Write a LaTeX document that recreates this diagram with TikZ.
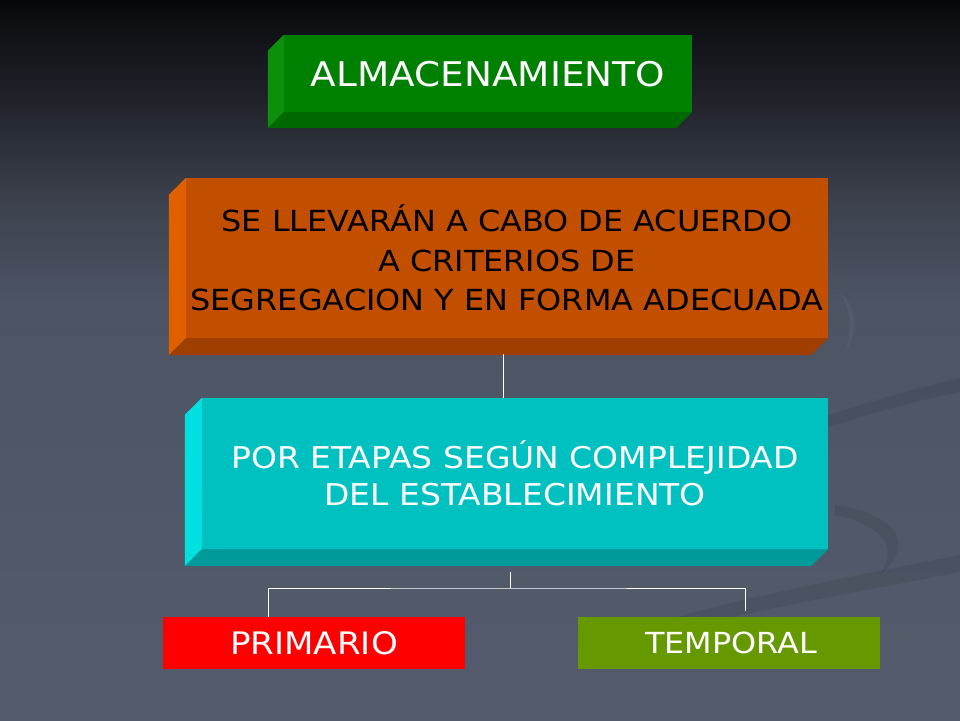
\documentclass[tikz,border=0pt]{standalone}
\usepackage{fontspec}
\setmainfont{DejaVu Sans}[FakeStretch=1.1]
\usetikzlibrary{calc}
\definecolor{bgtop}{HTML}{06070A}
\definecolor{bgb}{HTML}{0E0F13}
\definecolor{bgc}{HTML}{20232A}
\definecolor{bgd}{HTML}{3C414D}
\definecolor{bge}{HTML}{4D5464}
\definecolor{bgbot}{HTML}{545B6C}
\pgfdeclareverticalshading{bgshade}{100bp}{color(0bp)=(bgbot); color(25bp)=(bgbot); color(54bp)=(bge); color(61bp)=(bgd); color(68bp)=(bgc); color(73.5bp)=(bgb); color(75bp)=(bgtop); color(100bp)=(bgtop)}
\definecolor{grF}{HTML}{008000}
\definecolor{grL}{HTML}{0C900C}
\definecolor{grB}{HTML}{006800}
\definecolor{orF}{HTML}{C24E00}
\definecolor{orL}{HTML}{E06000}
\definecolor{orB}{HTML}{9E3F00}
\definecolor{cyF}{HTML}{00C0C0}
\definecolor{cyL}{HTML}{00E0E0}
\definecolor{cyB}{HTML}{009A9A}
\definecolor{redF}{HTML}{FF0000}
\definecolor{olF}{HTML}{669900}
\newcommand{\bevelfaces}[4]{%
  \fill[#3] ([shift={(-#4,-#4)}]#1.north west) -- (#1.north west) -- (#1.south west) -- ([shift={(-#4,-#4)}]#1.south west) -- cycle;
  \fill[#2] (#1.south west) -- (#1.south east) -- ([shift={(-#4,-#4)}]#1.south east) -- ([shift={(-#4,-#4)}]#1.south west) -- cycle;
}
\begin{document}
\begin{tikzpicture}[x=1pt,y=-1pt,
  facebox/.style={inner sep=0pt, align=center, text depth=0pt},
  flattext/.style={font=\fontsize{31}{37}\selectfont},
  conn/.style={draw=white, line width=0.9pt},
  swoosh/.style={fill=black, opacity=0.08}]
\useasboundingbox (0,0) rectangle (960,720);
\shade[shading=bgshade] (0,0) rectangle (960,720);
% subtle background swooshes
\fill[swoosh] (820,418) .. controls (880,398) and (920,388) .. (960,378) -- (960,392) .. controls (920,400) and (880,410) .. (820,430) -- cycle;
\fill[swoosh] (835,505) .. controls (900,515) and (915,545) .. (880,575) .. controls (900,545) and (880,525) .. (835,515) -- cycle;
\fill[swoosh] (600,640) .. controls (720,600) and (860,575) .. (960,555) -- (960,572) .. controls (860,592) and (720,615) .. (600,650) -- cycle;
\fill[white, opacity=0.04] (838,290) .. controls (858,305) and (858,335) .. (845,352) .. controls (852,335) and (852,305) .. (838,290) -- cycle;
% boxes
\node[facebox, fill=grF, minimum width=408pt, minimum height=77pt, text=white,
      font=\fontsize{34}{40}\selectfont] (alm) at (488,73.5) {ALMACENAMIENTO};
\bevelfaces{alm}{grB}{grL}{16pt}
\node[facebox, fill=orF, minimum width=642pt, minimum height=160pt, text=black,
      font=\fontsize{29}{39.5}\selectfont]
      (seg) at (507,258) {SE LLEVARÁN A CABO DE ACUERDO\\A CRITERIOS DE\\SEGREGACION Y EN FORMA ADECUADA};
\bevelfaces{seg}{orB}{orL}{17pt}
\node[facebox, fill=cyF, minimum width=626pt, minimum height=151pt, text=white,
      font=\fontsize{30}{37}\selectfont]
      (eta) at (515,473.5) {POR ETAPAS SEGÚN COMPLEJIDAD\\DEL ESTABLECIMIENTO};
\bevelfaces{eta}{cyB}{cyL}{17pt}
\node[facebox, flattext, fill=redF, minimum width=302pt, minimum height=52pt, text=white]
      (pri) at (314,643) {PRIMARIO};
\node[facebox, fill=olF, minimum width=302pt, minimum height=52pt, text=white,
      font=\fontsize{29}{37}\selectfont]
      (tem) at (729,643) {\hspace*{4pt}TEMPORAL};
% connectors
\coordinate (fork) at (510,588);
\draw[conn] ([shift={(-4pt,-16pt)}]seg.south) -- ([xshift=-12pt]eta.north);
\draw[conn] ([shift={(-5pt,-23pt)}]eta.south) -- (fork);
\draw[conn] ([xshift=-46pt]pri.north) |- (fork) -| ([shift={(16pt,6pt)}]tem.north);
\end{tikzpicture}
\end{document}
